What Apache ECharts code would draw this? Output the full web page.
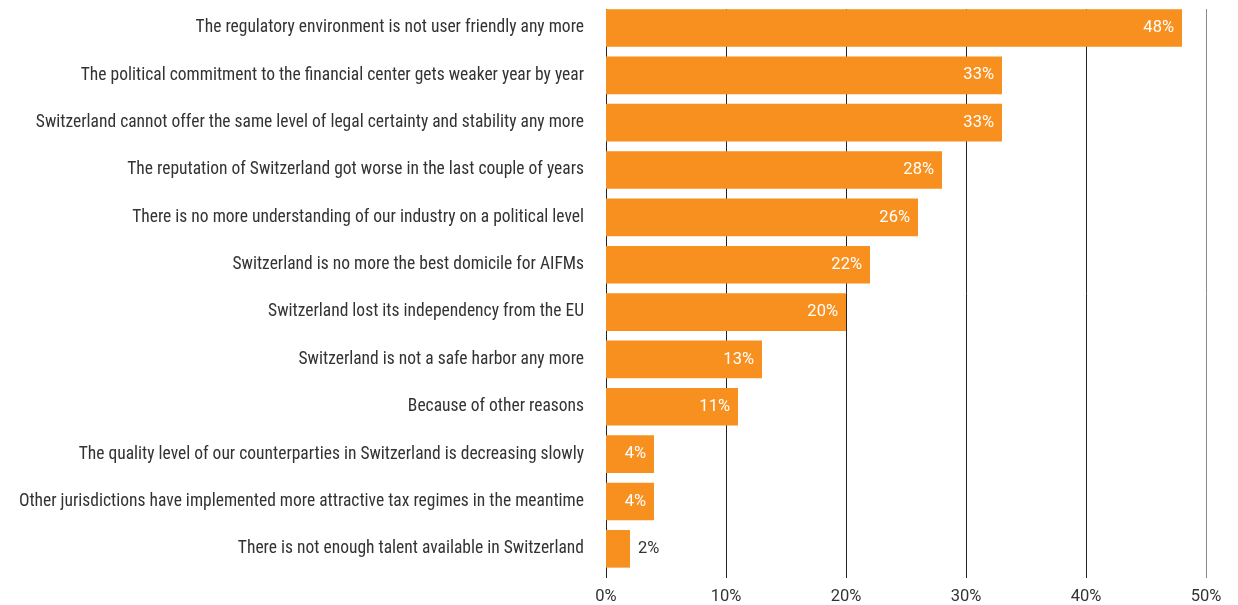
<!DOCTYPE html>
<html>
<head>
<meta charset="utf-8">
<script src="https://cdn.jsdelivr.net/npm/echarts@6/dist/echarts.min.js"></script>
<style>
  html, body { margin: 0; padding: 0; background: #fff; }
  #chart { width: 1238px; height: 605px; }
</style>
</head>
<body>
<div id="chart"></div>
<script>
// Reasons listed, top to bottom
const reasons = [
  'The regulatory environment is not user friendly any more',
  'The political commitment to the financial center gets weaker year by year',
  'Switzerland cannot offer the same level of legal certainty and stability any more',
  'The reputation of Switzerland got worse in the last couple of years',
  'There is no more understanding of our industry on a political level',
  'Switzerland is no more the best domicile for AIFMs',
  'Switzerland lost its independency from the EU',
  'Switzerland is not a safe harbor any more',
  'Because of other reasons',
  'The quality level of our counterparties in Switzerland is decreasing slowly',
  'Other jurisdictions have implemented more attractive tax regimes in the meantime',
  'There is not enough talent available in Switzerland'
];
// Share of respondents, in percent
const shares = [48, 33, 33, 28, 26, 22, 20, 13, 11, 4, 4, 2];
// Value axis ticks
const tickValues = [0, 10, 20, 30, 40, 50];

const TEXT_FONT = '"Liberation Sans Narrow", "Arial Narrow", "Roboto Condensed", Roboto, sans-serif';
const NUM_FONT = 'Roboto, "Liberation Sans", sans-serif';
const ORANGE = '#F7901E';
const TEXT = '#333333';

const chart = echarts.init(document.getElementById('chart'));

const barData = shares.map((v) => {
  if (v < 3) {
    return { value: v, label: { position: 'right', color: TEXT, distance: 8 } };
  }
  return v;
});

chart.setOption({
  animation: false,
  textStyle: { fontFamily: TEXT_FONT },
  grid: [
    // grid for the vertical reference lines and percent ticks
    { left: 606, right: 32, top: 9, bottom: 26, containLabel: false },
    // grid for the bars and reason labels
    { left: 606, right: 32, top: 4.3, bottom: 32.5, containLabel: false }
  ],
  xAxis: [
    {
      gridIndex: 0,
      type: 'value',
      min: tickValues[0],
      max: tickValues[tickValues.length - 1],
      interval: 10,
      axisLine: { show: false },
      axisTick: { show: false },
      splitLine: {
        show: true,
        lineStyle: { color: ['#222', '#222', '#222', '#222', '#222', '#8a8a8a'], width: 1 }
      },
      axisLabel: {
        formatter: '{value}%',
        color: TEXT,
        fontSize: 16.5,
        fontFamily: NUM_FONT,
        margin: 10
      }
    },
    {
      gridIndex: 1,
      type: 'value',
      min: tickValues[0],
      max: tickValues[tickValues.length - 1],
      show: false
    }
  ],
  yAxis: [
    {
      gridIndex: 0,
      type: 'category',
      data: reasons,
      show: false
    },
    {
      gridIndex: 1,
      type: 'category',
      data: reasons,
      inverse: true,
      axisLine: { show: false },
      axisTick: { show: false },
      splitLine: { show: false },
      axisLabel: {
        color: TEXT,
        fontSize: 17.5,
        fontFamily: TEXT_FONT,
        margin: 22
      }
    }
  ],
  series: [
    {
      type: 'bar',
      xAxisIndex: 1,
      yAxisIndex: 1,
      data: barData,
      barCategoryGap: '20.5%',
      itemStyle: { color: ORANGE },
      label: {
        show: true,
        position: 'insideRight',
        distance: 8,
        formatter: '{c}%',
        color: '#ffffff',
        fontSize: 16.5,
        fontFamily: NUM_FONT
      }
    }
  ]
});
</script>
</body>
</html>
